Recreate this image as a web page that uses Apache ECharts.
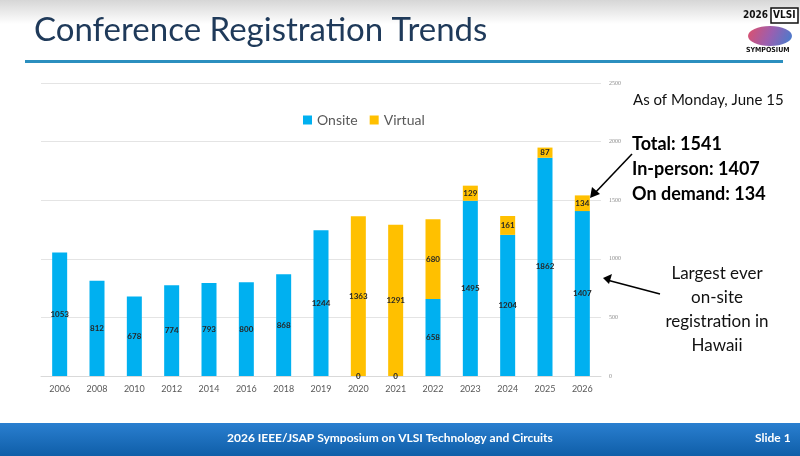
<!DOCTYPE html>
<html>
<head>
<meta charset="utf-8">
<script src="https://cdn.jsdelivr.net/npm/echarts@6/dist/echarts.min.js"></script>
<style>
  html, body { margin: 0; padding: 0; background: #fff; }
  #chart { width: 800px; height: 456px; }
</style>
</head>
<body>
<div id="chart"></div>
<script>
const years = ['2006', '2008', '2010', '2012', '2014', '2016', '2018', '2019', '2020', '2021', '2022', '2023', '2024', '2025', '2026']
// registration counts
const onsite = [1053, 812, 678, 774, 793, 800, 868, 1244, 0, 0, 658, 1495, 1204, 1862, 1407]
const virtual = [null, null, null, null, null, null, null, null, 1363, 1291, 680, 129, 161, 87, 134]
const yTicks = { min: 0, max: 2500, interval: 500 }

const chart = echarts.init(document.getElementById('chart'))

const labelStyle = {
  show: true,
  position: 'inside',
  color: '#262626',
  fontSize: 8,
  fontWeight: 'bold',
  fontFamily: 'Lato'
}

const option = {
  backgroundColor: '#fff',
  animation: false,
  grid: { left: 41, right: 199, top: 83, bottom: 80 },
  legend: {
    top: 108,
    left: 298,
    itemWidth: 9,
    itemHeight: 9,
    itemGap: 12,
    icon: 'rect',
    textStyle: { color: '#595959', fontSize: 14, fontFamily: 'Lato' },
    data: ['Onsite', 'Virtual']
  },
  xAxis: {
    type: 'category',
    data: years,
    axisLine: { lineStyle: { color: '#d9d9d9' } },
    axisTick: { show: false },
    axisLabel: { color: '#595959', fontSize: 9, fontFamily: 'Lato', margin: 9 }
  },
  yAxis: {
    type: 'value',
    position: 'right',
    min: yTicks.min,
    max: yTicks.max,
    interval: yTicks.interval,
    axisLine: { show: false },
    axisTick: { show: false },
    axisLabel: {
      color: '#8c8c8c', fontSize: 6, fontFamily: 'Liberation Serif', margin: 8,
      formatter: v => String(v)
    },
    splitLine: { lineStyle: { color: '#e4e4e4', width: 1 } }
  },
  series: [
    {
      name: 'Onsite',
      type: 'bar',
      stack: 'reg',
      data: onsite,
      barWidth: 15,
      itemStyle: { color: '#00b0f0' },
      label: labelStyle
    },
    {
      name: 'Virtual',
      type: 'bar',
      stack: 'reg',
      data: virtual,
      barWidth: 15,
      itemStyle: { color: '#ffc000' },
      label: labelStyle
    }
  ],
  graphic: [
    // header shading
    {
      type: 'rect', z: -10, silent: true,
      shape: { x: 0, y: 0, width: 800, height: 24 },
      style: {
        fill: new echarts.graphic.LinearGradient(0, 0, 0, 1, [
          { offset: 0, color: '#d6d6d6' },
          { offset: 1, color: '#ffffff' }
        ])
      }
    },
    {
      type: 'text', left: 34, top: 14,
      style: { text: 'Conference Registration Trends', fill: '#1f3a5a', font: '33px Lato' }
    },
    {
      type: 'rect',
      shape: { x: 25, y: 60, width: 758, height: 3 },
      style: { fill: '#2b8fbf' }
    },
    // logo
    {
      type: 'text', left: 743, top: 10,
      style: { text: '2026', fill: '#111', font: 'bold 10px "DejaVu Sans Condensed", "DejaVu Sans"' }
    },
    {
      type: 'rect',
      shape: { x: 771, y: 8, width: 27, height: 15 },
      style: { fill: '#fff', stroke: '#111', lineWidth: 1.5 }
    },
    {
      type: 'text', left: 773, top: 10,
      style: { text: 'VLSI', fill: '#111', font: 'bold 10px "DejaVu Sans Condensed", "DejaVu Sans"' }
    },
    {
      type: 'ellipse',
      shape: { cx: 770, cy: 36, rx: 22, ry: 10 },
      style: {
        fill: new echarts.graphic.LinearGradient(0, 0, 1, 1, [
          { offset: 0, color: '#e0506a' },
          { offset: 0.5, color: '#9a5fb0' },
          { offset: 1, color: '#3f7fd0' }
        ])
      }
    },
    {
      type: 'text', left: 746, top: 47,
      style: { text: 'SYMPOSIUM', fill: '#111', font: 'bold 7px "DejaVu Sans Condensed", "DejaVu Sans"' }
    },
    // annotations
    {
      type: 'text', left: 633, top: 93,
      style: { text: 'As of Monday, June 15', fill: '#111', font: '15px Lato' }
    },
    {
      type: 'text', left: 632, top: 132,
      style: {
        text: 'Total: 1541\nIn-person: 1407\nOn demand: 134',
        fill: '#000', font: 'bold 18px Lato', lineHeight: 25
      }
    },
    {
      type: 'text',
      style: {
        x: 717, y: 262,
        text: 'Largest ever\non-site\nregistration in\nHawaii',
        fill: '#111', font: '17px Lato', lineHeight: 24, align: 'center', verticalAlign: 'top'
      }
    },
    // arrows
    {
      type: 'line',
      shape: { x1: 632, y1: 154, x2: 593, y2: 195 },
      style: { stroke: '#000', lineWidth: 1.6 }
    },
    {
      type: 'polygon',
      shape: { points: [[590, 198], [592, 187], [600, 194]] },
      style: { fill: '#000' }
    },
    {
      type: 'line',
      shape: { x1: 660, y1: 294, x2: 607, y2: 280 },
      style: { stroke: '#000', lineWidth: 1.6 }
    },
    {
      type: 'polygon',
      shape: { points: [[603, 278], [612, 274], [609, 284]] },
      style: { fill: '#000' }
    },
    // footer band
    {
      type: 'rect', z: -5,
      shape: { x: 0, y: 423, width: 800, height: 33 },
      style: {
        fill: new echarts.graphic.LinearGradient(0, 0, 0, 1, [
          { offset: 0, color: '#2a7fd0' },
          { offset: 1, color: '#0f5ea8' }
        ])
      }
    },
    {
      type: 'text', left: 227, top: 432,
      style: { text: '2026 IEEE/JSAP Symposium on VLSI Technology and Circuits', fill: '#fff', font: 'bold 12px Lato' }
    },
    {
      type: 'text', left: 755, top: 432,
      style: { text: 'Slide 1', fill: '#fff', font: 'bold 12px Lato' }
    }
  ]
}

chart.setOption(option)
</script>
</body>
</html>
